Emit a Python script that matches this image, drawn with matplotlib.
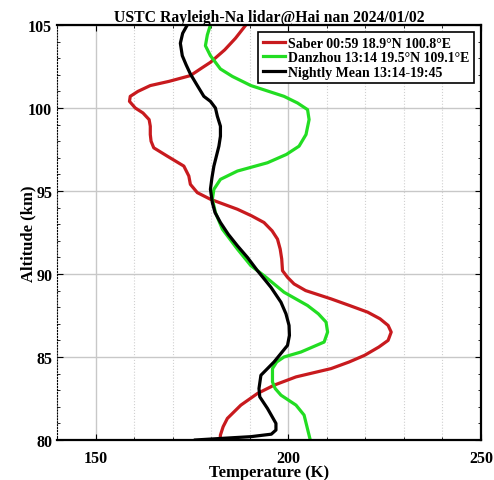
import numpy as np
import matplotlib.pyplot as plt
from matplotlib.ticker import MultipleLocator

plt.rcParams['font.family'] = ['Liberation Serif', 'DejaVu Serif']
plt.rcParams['font.weight'] = 'bold'

# Saber profile (temperature K vs altitude km)
saber_alt = [80.0, 80.3, 80.8, 81.3, 82.1, 82.8, 83.3, 83.8, 84.3, 84.7, 85.1, 85.6,
             86.0, 86.5, 86.9, 87.3, 87.7, 88.1, 88.5, 89.0, 89.4, 89.8, 90.2, 90.9,
             91.5, 92.1, 92.6, 93.1, 93.5, 93.9, 94.5, 94.9, 95.4, 95.9, 96.5, 97.1,
             97.6, 98.0, 98.4, 98.9, 99.3, 99.7, 100.0, 100.4, 100.7, 101.0, 101.35,
             101.6, 101.95, 102.4, 102.75, 103.5, 104.2, 105.0]
saber_temp = [182.3, 182.4, 183.1, 184.2, 187.7, 192.0, 196.3, 202.0, 211.1, 215.8,
              219.8, 223.5, 225.9, 226.7, 225.9, 223.8, 220.6, 215.9, 211.1, 204.5,
              201.5, 199.8, 198.5, 198.3, 197.9, 197.2, 195.8, 193.7, 190.5, 186.8,
              179.8, 176.4, 174.6, 174.2, 172.9, 168.6, 165.1, 164.4, 164.2, 164.2,
              163.9, 162.3, 160.3, 158.8, 159.0, 161.0, 164.2, 169.0, 174.6, 177.5,
              179.8, 183.5, 186.3, 189.0]

# Danzhou lidar
dz_alt = [80.0, 81.5, 82.1, 82.7, 83.1, 83.5, 84.3, 84.7, 85.0, 85.3, 85.9, 86.5,
          87.1, 87.6, 88.1, 88.9, 89.9, 90.5, 91.5, 92.7, 93.7, 94.5, 95.1, 95.7,
          96.2, 96.7, 97.2, 97.7, 98.4, 99.3, 99.9, 100.3, 100.7, 101.35, 101.9,
          102.35, 103.15, 103.75, 104.4, 105.0]
dz_temp = [205.7, 204.1, 202.0, 198.1, 196.6, 195.9, 195.9, 197.0, 198.9, 203.3,
           209.3, 210.2, 209.8, 207.8, 205.0, 198.9, 193.7, 190.3, 186.8, 182.9,
           181.1, 180.3, 180.7, 182.4, 186.8, 194.6, 199.5, 202.8, 204.6, 205.4,
           205.0, 202.4, 198.9, 190.3, 185.5, 182.4, 179.8, 178.5, 179.0, 179.8]

# Nightly mean
nm_alt = [80.0, 80.1, 80.2, 80.35, 80.6, 81.0, 81.9, 82.6, 83.1, 83.9, 84.7, 85.7,
          86.3, 86.9, 87.6, 88.3, 89.2, 90.2, 91.0, 91.7, 92.4, 93.1, 93.7, 94.3,
          95.1, 95.8, 96.5, 97.7, 98.3, 98.9, 99.5, 100.0, 100.4, 100.7, 101.35,
          102.05, 102.6, 103.15, 103.9, 104.5, 105.0]
nm_temp = [175.9, 183.0, 190.3, 195.6, 196.8, 196.8, 194.6, 192.6, 192.4, 192.9,
           196.3, 199.8, 200.3, 200.2, 199.4, 198.1, 195.5, 192.0, 189.4, 186.8,
           184.4, 182.4, 181.0, 180.3, 179.8, 180.2, 180.7, 182.0, 182.4, 182.4,
           181.6, 181.1, 179.8, 178.1, 176.4, 174.6, 173.5, 172.5, 172.0, 172.6,
           173.8]

fig = plt.figure(figsize=(4.94, 4.81), dpi=100)
ax = fig.add_axes([0.1154, 0.0832, 0.8583, 0.8628])

ax.plot(saber_temp, saber_alt, color='#c81a1e', lw=2.3, label='Saber 00:59 18.9°N 100.8°E')
ax.plot(dz_temp, dz_alt, color='#22dd22', lw=2.3, label='Danzhou 13:14 19.5°N 109.1°E')
ax.plot(nm_temp, nm_alt, color='black', lw=2.3, label='Nightly Mean 13:14-19:45')

ax.set_xlim(140, 250)
ax.set_ylim(80, 105)
ax.xaxis.set_major_locator(MultipleLocator(50))
ax.xaxis.set_minor_locator(MultipleLocator(10))
ax.yaxis.set_major_locator(MultipleLocator(5))
ax.yaxis.set_minor_locator(MultipleLocator(1))
ax.grid(which='major', color='#c8c8c8', lw=1.0)
ax.grid(which='minor', axis='x', color='#d0d0d0', lw=0.8, ls=':')
ax.tick_params(which='both', direction='in', top=True, right=True, labelsize=11.5)
ax.tick_params(which='major', length=4)
ax.tick_params(which='minor', length=2.5)
ax.tick_params(axis='x', pad=7)
for s in ['top', 'bottom', 'right']:
    ax.spines[s].set_linewidth(1.6)
ax.spines['left'].set_linewidth(0.8)
ax.spines['left'].set_linestyle(':')

ax.set_xlabel('Temperature (K)', fontsize=12, fontweight='bold')
ax.set_ylabel('Altitude (km)', fontsize=12, fontweight='bold')
ax.xaxis.set_label_coords(0.5, -0.058)
ax.yaxis.set_label_coords(-0.048, 0.5)
ax.set_title('USTC Rayleigh-Na lidar@Hai nan 2024/01/02', fontsize=11.3, fontweight='bold', pad=2)

leg = ax.legend(loc='upper right', fontsize=10, handlelength=1.6, handletextpad=0.2,
                borderpad=0.35, labelspacing=0.1, borderaxespad=0.5, fancybox=False,
                framealpha=1)
leg.get_frame().set_edgecolor('black')
leg.get_frame().set_linewidth(1.2)

fig.savefig('out.png', dpi=100)
